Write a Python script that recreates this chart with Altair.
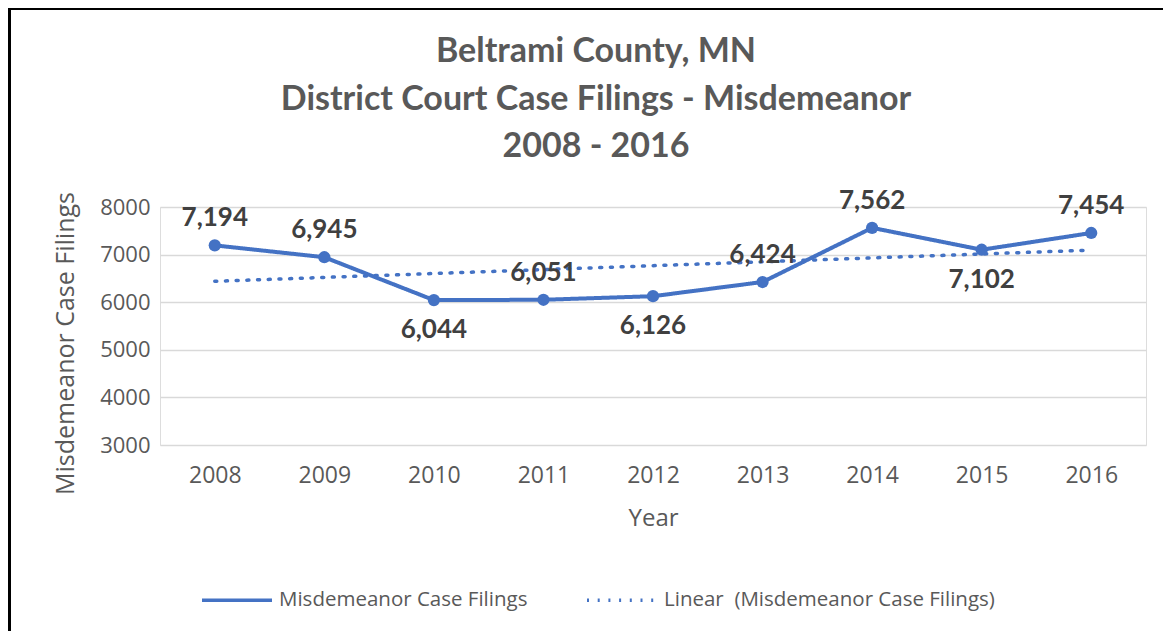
import altair as alt
import pandas as pd

# ---- data ----
years = [2008, 2009, 2010, 2011, 2012, 2013, 2014, 2015, 2016]
filings = [7194, 6945, 6044, 6051, 6126, 6424, 7562, 7102, 7454]
below_labels = [2010, 2012, 2015]   # data labels placed under the point
series_name = "Misdemeanor Case Filings"
trend_name = "Linear \u00a0(Misdemeanor Case Filings)"
y_ticks = [3000, 4000, 5000, 6000, 7000, 8000]
title_lines = ["Beltrami County, MN", "District Court Case Filings - Misdemeanor", "2008 - 2016"]

df = pd.DataFrame({"year": years, "value": filings})
df["series"] = series_name
df["pos"] = ["below" if y in below_labels else "above" for y in years]

BLUE = "#4472C4"
GRAY = "#595959"
LBL = "#404040"

W, H = 986, 238
PAD = {"left": 152, "top": 199, "right": 17, "bottom": 186}

color_scale = alt.Scale(domain=[series_name, trend_name], range=[BLUE, BLUE])
dash_scale = alt.Scale(domain=[series_name, trend_name], range=[[1, 0], [2, 8.7]])

x_enc = alt.X(
    "year:Q",
    scale=alt.Scale(domain=[2007.5, 2016.5], nice=False, zero=False),
    axis=alt.Axis(
        values=years, format="d", title="Year", grid=False, domain=False, ticks=False,
        labelFont="Open Sans", labelFontSize=23, labelColor=GRAY, labelPadding=19,
        titleFont="Open Sans", titleFontSize=24, titleColor=GRAY, titleFontWeight="normal",
        titlePadding=19,
    ),
)
y_enc = alt.Y(
    "value:Q",
    scale=alt.Scale(domain=[3000, 8000], nice=False, zero=False),
    axis=alt.Axis(
        values=y_ticks, format="d", title="Misdemeanor Case Filings",
        grid=True, gridColor="#d9d9d9", gridWidth=1.5, domain=False, ticks=False,
        labelFont="Open Sans", labelFontSize=22, labelColor=GRAY, labelPadding=10,
        titleFont="Open Sans", titleFontSize=25, titleColor=GRAY, titleFontWeight="normal",
        titleX=-95, titleY=136, titleAngle=-90, titleAlign="center", titleBaseline="middle",
    ),
)

legend = alt.Legend(
    title=None, orient="none", legendX=40, legendY=356, direction="horizontal",
    columns=2, columnPadding=52, symbolType="stroke", symbolSize=4900,
    symbolStrokeWidth=3.5, labelFont="Open Sans", labelFontSize=20.5, labelColor=GRAY,
    labelLimit=600, labelOffset=5,
)

base = alt.Chart(df)

line = base.mark_line(strokeWidth=4, strokeCap="round", strokeJoin="round").encode(
    x=x_enc, y=y_enc,
    color=alt.Color("series:N", scale=color_scale, legend=legend),
    strokeDash=alt.StrokeDash("series:N", scale=dash_scale, legend=legend),
)

pts = base.mark_point(filled=True, size=150, opacity=1, color=BLUE).encode(
    x="year:Q", y="value:Q"
)

trend = (
    base.transform_regression("year", "value")
    .transform_calculate(series=f"'{trend_name}'")
    .mark_line(strokeWidth=3.5, strokeCap="round")
    .encode(
        x="year:Q", y="value:Q",
        color=alt.Color("series:N", scale=color_scale, legend=legend),
        strokeDash=alt.StrokeDash("series:N", scale=dash_scale, legend=legend),
    )
)

BOLD_FONT = "Lato"
lab_above = base.transform_filter("datum.pos == 'above'").mark_text(
    font=BOLD_FONT, fontSize=26, fontWeight="bold", color=LBL,
    baseline="bottom", dy=-14,
).encode(x="year:Q", y="value:Q", text=alt.Text("value:Q", format=","))

lab_below = base.transform_filter("datum.pos == 'below'").mark_text(
    font=BOLD_FONT, fontSize=26, fontWeight="bold", color=LBL,
    baseline="top", dy=17,
).encode(x="year:Q", y="value:Q", text=alt.Text("value:Q", format=","))

title = alt.Chart(pd.DataFrame({"t": [0]})).mark_text(
    text=title_lines, font=BOLD_FONT, fontSize=34, fontWeight="bold", color=GRAY,
    lineHeight=47.5, align="center", baseline="middle",
).encode(x=alt.value(436), y=alt.value(-155))

border_top = base.mark_rule(color="black", strokeWidth=2).encode(
    x=alt.value(-PAD["left"]), x2=alt.value(W + PAD["right"]), y=alt.value(-PAD["top"] + 1)
)
border_left = base.mark_rule(color="black", strokeWidth=3).encode(
    x=alt.value(-PAD["left"] + 1.5), y=alt.value(-PAD["top"]), y2=alt.value(H + PAD["bottom"])
)

chart = (
    alt.layer(trend, line, pts, lab_above, lab_below, title, border_top, border_left)
    .properties(
        width=W, height=H,
        autosize=alt.AutoSizeParams(type="none"),
        padding=PAD,
    )
    .configure_view(stroke=None)
    .configure(background="white")
)

chart.save("out.html", embed_options={"renderer": "svg", "actions": False})
